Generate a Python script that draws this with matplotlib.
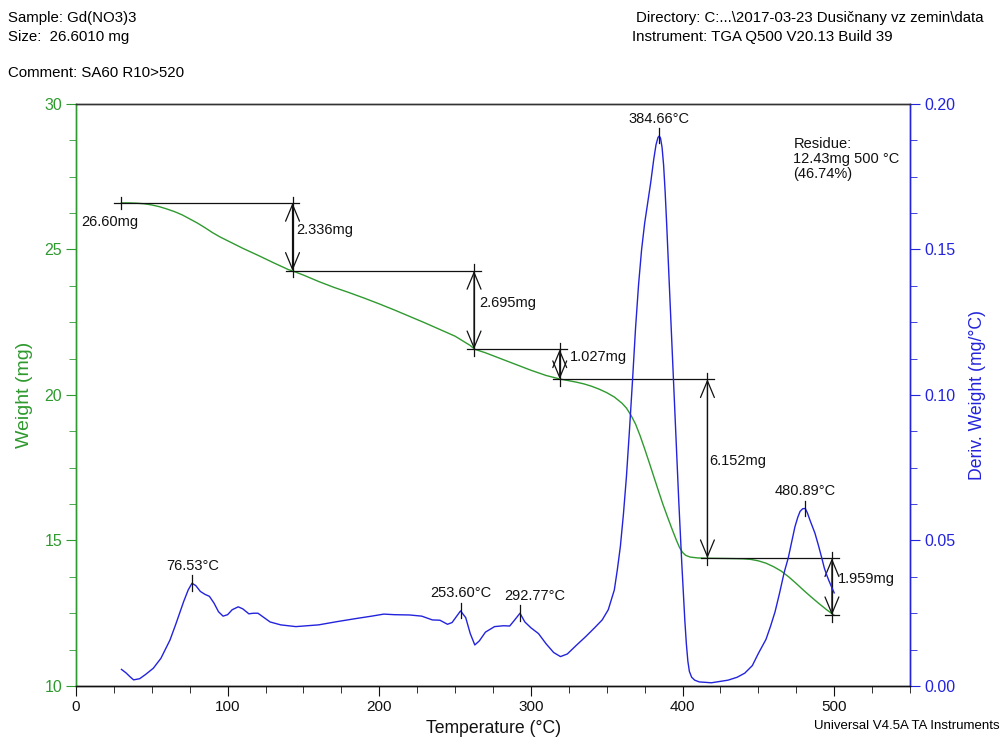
import matplotlib
matplotlib.use('Agg')
import matplotlib.pyplot as plt
from matplotlib.ticker import MultipleLocator, FormatStrFormatter

plt.rcParams['font.family'] = ['Liberation Sans', 'DejaVu Sans']

# ---------------- data ----------------
temp_w = [30, 35, 40, 45, 50, 55, 60, 65, 70, 75, 80, 85, 90, 95, 100, 105, 110, 120, 130,
          140, 143, 150, 160, 170, 180, 190, 200, 210, 220, 230, 240, 250, 260, 263,
          270, 280, 290, 300, 310, 319, 325, 330, 335, 340, 345, 350, 355, 360, 363,
          366, 369, 372, 375, 378, 381, 384, 387, 390, 393, 396, 398, 400, 402, 405,
          410, 416, 430, 440, 445, 450, 455, 460, 465, 470, 475, 480, 485, 490, 495, 500]
weight = [26.60, 26.60, 26.59, 26.57, 26.53, 26.47, 26.39, 26.30, 26.19, 26.05, 25.91,
          25.75, 25.58, 25.43, 25.30, 25.17, 25.04, 24.80, 24.55, 24.31, 24.26, 24.12,
          23.90, 23.70, 23.52, 23.33, 23.13, 22.92, 22.70, 22.48, 22.25, 22.02, 21.70,
          21.57, 21.45, 21.25, 21.05, 20.85, 20.67, 20.55, 20.49, 20.44, 20.38, 20.30,
          20.20, 20.08, 19.93, 19.72, 19.55, 19.30, 19.00, 18.60, 18.15, 17.68, 17.20,
          16.72, 16.25, 15.82, 15.40, 15.00, 14.76, 14.59, 14.49, 14.43, 14.40, 14.39,
          14.38, 14.37, 14.35, 14.30, 14.22, 14.10, 13.95, 13.75, 13.52, 13.28, 13.05,
          12.83, 12.62, 12.43]

temp_d = [30, 33, 36, 38, 42, 46, 51, 56, 62, 66, 71, 74, 76.5, 79, 82, 85, 88, 91, 94,
          97, 100, 103, 107, 110, 114, 117, 120, 124, 128, 135, 145, 160, 172, 185, 195,
          203, 210, 220, 228, 235, 240, 245, 248, 253.6, 257, 260, 263, 266, 270, 276,
          282, 286, 289, 292.8, 296, 300, 305, 310, 315, 319.5, 324, 330, 336, 342, 347,
          351, 355, 357, 359, 361, 363, 365, 367, 369, 371, 373, 375, 377, 379, 381,
          382.5, 383.8, 384.66, 385.5, 386.5, 387.5, 388.5, 389.5, 390.5, 391.5, 392.5,
          393.5, 394.5, 395.5, 396.5, 397.5, 398.5, 399.5, 400.5, 401.5, 402.5, 403.5,
          404.5, 406, 408, 411, 419, 430, 436, 441, 446, 450, 455, 458, 461, 464, 467,
          469.7, 472, 474.1, 476, 477.5, 479.2, 480.9, 482.3, 484, 487.3, 489.5, 491.6,
          493.5, 495, 496.5, 498.2, 500]
deriv = [0.0057, 0.0045, 0.0030, 0.0021, 0.0025, 0.0040, 0.0061, 0.0095, 0.0158, 0.0215,
         0.0290, 0.0330, 0.0353, 0.0345, 0.0325, 0.0315, 0.0308, 0.0285, 0.0255, 0.0240,
         0.0245, 0.0262, 0.0272, 0.0265, 0.0248, 0.0250, 0.0250, 0.0235, 0.0220, 0.0210,
         0.0204, 0.0210, 0.0221, 0.0232, 0.0240, 0.0247, 0.0245, 0.0244, 0.0240, 0.0227,
         0.0226, 0.0212, 0.0218, 0.0258, 0.0235, 0.0180, 0.0141, 0.0155, 0.0185, 0.0204,
         0.0207, 0.0206, 0.0225, 0.0250, 0.0220, 0.0200, 0.0180, 0.0145, 0.0115, 0.0101,
         0.0110, 0.0140, 0.0169, 0.0200, 0.0227, 0.0262, 0.0330, 0.0400, 0.0480, 0.0590,
         0.0720, 0.0880, 0.1050, 0.1230, 0.1380, 0.1500, 0.1590, 0.1660, 0.1730, 0.1810,
         0.1860, 0.1885, 0.1890, 0.1882, 0.1850, 0.1790, 0.1700, 0.1590, 0.1470, 0.1350,
         0.1230, 0.1110, 0.0990, 0.0870, 0.0750, 0.0635, 0.0525, 0.0420, 0.0320, 0.0225,
         0.0145, 0.0085, 0.0050, 0.0030, 0.0020, 0.0014, 0.0011, 0.0020, 0.0030, 0.0044,
         0.0070, 0.0112, 0.0160, 0.0205, 0.0255, 0.0320, 0.0390, 0.0440, 0.0495, 0.0547,
         0.0580, 0.0600, 0.0609, 0.0610, 0.0595, 0.0570, 0.0525, 0.0485, 0.0444, 0.0405,
         0.0382, 0.0362, 0.0341, 0.0320]

start_temp = 30.0
start_label = '26.60mg'
step_temps = [142.8, 262.5, 319.0, 416.4, 498.5]
step_levels = [26.60, 24.264, 21.569, 20.542, 14.390, 12.431]
step_labels = ['2.336mg', '2.695mg', '1.027mg', '6.152mg', '1.959mg']

peak_temps = [76.53, 253.60, 292.77, 384.66, 480.89]
peak_values = [0.0353, 0.0258, 0.0250, 0.1890, 0.0610]
peak_labels = ['76.53°C', '253.60°C', '292.77°C', '384.66°C', '480.89°C']

residue_text = 'Residue:\n12.43mg 500 °C\n(46.74%)'

x_ticks = [0, 100, 200, 300, 400, 500]

# ---------------- style ----------------
GREEN = '#2f9a2f'
BLUE = '#2323dc'
BLACK = '#111111'
ANN = 10.5
step_label_dx = [2.5, 3.3, 6.5, 1.5, 4.0]
peak_label_dx = [0.5, 0.0, 9.5, 0.0, 0.0]

fig = plt.figure(figsize=(10.05, 7.4), dpi=100)
fig.subplots_adjust(left=0.0756, right=0.9055, bottom=0.0730, top=0.8595)
ax = fig.add_subplot(111)
ax2 = ax.twinx()

ax.plot(temp_w, weight, color=GREEN, lw=1.0, zorder=3)
ax2.plot(temp_d, deriv, color=BLUE, lw=1.0, zorder=3)

ax.set_xlim(0, 550)
ax.set_ylim(10, 30)
ax2.set_ylim(0, 0.20)

ax.set_xticks(x_ticks)
ax.xaxis.set_minor_locator(MultipleLocator(25))
ax.yaxis.set_major_locator(MultipleLocator(5))
ax.yaxis.set_minor_locator(MultipleLocator(1.25))
ax2.yaxis.set_major_locator(MultipleLocator(0.05))
ax2.yaxis.set_minor_locator(MultipleLocator(0.0125))
ax2.yaxis.set_major_formatter(FormatStrFormatter('%.2f'))

ax.tick_params(axis='x', which='both', direction='out', colors=BLACK, labelsize=11, pad=3)
ax.tick_params(axis='x', which='major', length=7)
ax.tick_params(axis='x', which='minor', length=5)
ax.tick_params(axis='y', which='both', direction='out', colors=GREEN, labelsize=11.5, pad=3)
ax.tick_params(axis='y', which='major', length=7)
ax.tick_params(axis='y', which='minor', length=5)
ax2.tick_params(axis='y', which='both', direction='out', colors=BLUE, labelsize=11.5, pad=3)
ax2.tick_params(axis='y', which='major', length=7)
ax2.tick_params(axis='y', which='minor', length=5)

for a in (ax, ax2):
    a.spines['top'].set_color('#333333')
    a.spines['bottom'].set_color(BLACK)
    a.spines['left'].set_color(GREEN)
    a.spines['right'].set_color(BLUE)
    for s in a.spines.values():
        s.set_linewidth(1.0)

ax.set_xlabel('Temperature (°C)', fontsize=12.7, color=BLACK)
ax.xaxis.set_label_coords(0.501, -0.058)
ax.set_ylabel('Weight (mg)', fontsize=14, color=GREEN)
ax.yaxis.set_label_coords(-0.052, 0.5)
ax2.set_ylabel('Deriv. Weight (mg/°C)', fontsize=12.7, color=BLUE)
ax2.yaxis.set_label_coords(1.071, 0.5)

# ---------------- step annotations (weight axis) ----------------
lk = dict(color=BLACK, lw=0.9, zorder=4)
ax.plot([start_temp - 5, step_temps[0] + 4.5], [step_levels[0]] * 2, **lk)
ax.plot([start_temp, start_temp], [step_levels[0] - 0.22, step_levels[0] + 0.22], **lk)
ax.text(start_temp - 7.5, step_levels[0] - 0.66, start_label, fontsize=ANN,
        ha='center', va='center', color=BLACK)

for i, t in enumerate(step_temps):
    top = step_levels[i]
    bot = step_levels[i + 1]
    ax.plot([t, t], [bot - 0.22, top + 0.22], **lk)
    ax.annotate('', xy=(t, bot), xytext=(t, top),
                arrowprops=dict(arrowstyle='<->,head_length=0.6,head_width=0.25',
                                mutation_scale=20, shrinkA=0, shrinkB=0,
                                color=BLACK, lw=0.9), zorder=4)
    x_end = step_temps[i + 1] + 4.5 if i + 1 < len(step_temps) else t + 4.5
    ax.plot([t - 4.5, x_end], [bot, bot], **lk)
    ax.text(t + step_label_dx[i], (top + bot) / 2 + 0.25, step_labels[i], fontsize=ANN,
            ha='left', va='center', color=BLACK)

ax.text(473, 28.86, residue_text, fontsize=ANN, ha='left', va='top',
        color=BLACK, linespacing=1.1)

# ---------------- peak annotations (derivative axis) ----------------
for t, v, lab, dx in zip(peak_temps, peak_values, peak_labels, peak_label_dx):
    ax2.plot([t, t], [v - 0.0025, v + 0.0027], color=BLACK, lw=0.9, zorder=4)
    ax2.text(t + dx, v + 0.0060, lab, fontsize=ANN, ha='center', va='center', color=BLACK)

# ---------------- header texts ----------------
fs_head = 10.8
fig.text(8 / 1005, 1 - 18 / 740, 'Sample: Gd(NO3)3', fontsize=fs_head, va='center', ha='left')
fig.text(8 / 1005, 1 - 37 / 740, 'Size:  26.6010 mg', fontsize=fs_head, va='center', ha='left')
fig.text(8 / 1005, 1 - 73 / 740, 'Comment: SA60 R10>520', fontsize=fs_head, va='center', ha='left')
fig.text(636 / 1005, 1 - 18 / 740, 'Directory: C:...\\2017-03-23 Dusičnany vz zemin\\data',
         fontsize=fs_head, va='center', ha='left')
fig.text(632 / 1005, 1 - 37 / 740, 'Instrument: TGA Q500 V20.13 Build 39',
         fontsize=fs_head, va='center', ha='left')
fig.text(1000 / 1005, 1 - 726 / 740, 'Universal V4.5A TA Instruments', fontsize=9.5,
         va='center', ha='right')

fig.savefig('out.png', dpi=100)
